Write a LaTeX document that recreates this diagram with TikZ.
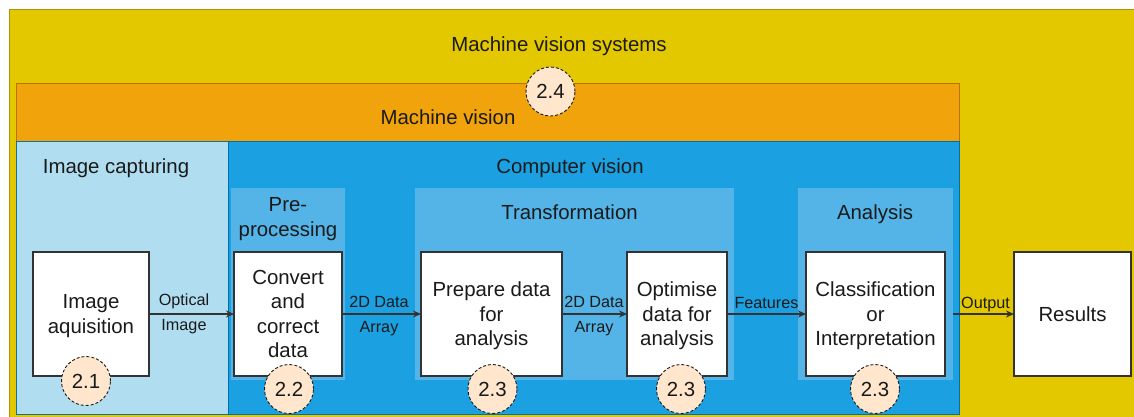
\documentclass[tikz,border=0pt]{standalone}
\usepackage{fontspec}
\setmainfont{Liberation Sans}
\usetikzlibrary{arrows.meta}

\definecolor{sysfill}{HTML}{E3C800}
\definecolor{sysline}{HTML}{B09500}
\definecolor{mvfill}{HTML}{F0A30A}
\definecolor{mvline}{HTML}{BD7000}
\definecolor{capfill}{HTML}{B1DDF0}
\definecolor{capline}{HTML}{10739E}
\definecolor{cvfill}{HTML}{1BA1E2}
\definecolor{cvline}{HTML}{006EAF}
\definecolor{stagefill}{HTML}{54B4E8}
\definecolor{tagfill}{HTML}{FFE6CC}
\definecolor{ink}{HTML}{1A1A1A}
\definecolor{wire}{HTML}{333333}

\tikzset{
  area/.style={anchor=north west, inner sep=0pt, outer sep=0pt, line width=1pt},
  stagebox/.style={area, fill=stagefill, draw=none},
  block/.style={area, fill=white, draw=wire, line width=1.1pt, align=center,
    text=ink, text depth=0pt, font=\fontsize{20.4}{24.5}\selectfont},
  title/.style={text=ink, inner sep=0pt, align=center,
    font=\fontsize{20.4}{25}\selectfont},
  elabel/.style={text=ink, inner sep=0pt, align=center,
    font=\fontsize{16.2}{25}\selectfont},
  flow/.style={draw=wire, line width=1.2pt, -{Stealth[length=8pt,width=7pt]}},
  tag/.style={circle, draw=ink, dashed, dash pattern=on 3pt off 2pt, line width=0.9pt,
    fill=tagfill, minimum size=49pt, inner sep=0pt, text=ink,
    font=\fontsize{20.4}{24.5}\selectfont}
}

\begin{document}
\begin{tikzpicture}[x=1pt, y=-1pt]
\useasboundingbox (0,0) rectangle (1134,416);
\clip (0,0) rectangle (1134,416);

% nested scopes of the system
\node[area, fill=sysfill, draw=sysline, minimum width=1140pt, minimum height=420pt] (sys) at (9,9) {};
\node[area, fill=mvfill, draw=mvline, minimum width=943pt, minimum height=58pt] (mv) at (16,83) {};
\node[area, fill=capfill, draw=capline, minimum width=212pt, minimum height=273pt] (cap) at (16,141) {};
\node[area, fill=cvfill, draw=cvline, minimum width=731pt, minimum height=273pt] (cv) at (228,141) {};

% processing stages
\node[stagebox, minimum width=114pt, minimum height=192pt] (pre) at (231,188) {};
\node[stagebox, minimum width=319pt, minimum height=192pt] (tr) at (415,188) {};
\node[stagebox, minimum width=155pt, minimum height=192pt] (an) at (798,188) {};

% titles
\node[title, anchor=base] (tsys) at (559,51) {Machine vision systems};
\node[title, anchor=base] (tmv) at (448,124) {Machine vision};
\node[title, anchor=base] (tcap) at (116,173) {Image capturing};
\node[title, anchor=base] (tcv) at (570,173) {Computer vision};
\node[title] (tpre) at (288,219.5) {Pre-\\processing};
\node[title, anchor=base] (ttr) at (569.5,219) {Transformation};
\node[title, anchor=base] (tan) at (875,219) {Analysis};

% blocks
\node[block, minimum width=116pt, minimum height=124pt] (acq) at (33,252) {Image\\aquisition};
\node[block, minimum width=108pt, minimum height=124pt] (conv) at (234,252) {Convert\\and\\correct\\data};
\node[block, minimum width=141pt, minimum height=124pt] (prep) at (421,252) {Prepare data\\for\\analysis};
\node[block, minimum width=100pt, minimum height=124pt] (opt) at (627,252) {Optimise\\data for\\analysis};
\node[block, minimum width=139pt, minimum height=124pt] (cls) at (806,252) {Classification\\or\\Interpretation};
\node[block, minimum width=117pt, minimum height=124pt] (res) at (1014,252) {Results};

% data flow
\draw[flow] (acq.east) -- node[elabel, xshift=-7.5pt] {Optical\\Image} (conv.west);
\draw[flow] (conv.east) -- node[elabel, xshift=-2.5pt, yshift=-2pt] {2D Data\\Array} (prep.west);
\draw[flow] (prep.east) -- node[elabel, xshift=-0.5pt, yshift=-2pt] {2D Data\\Array} (opt.west);
\draw[flow] (opt.east) -- node[elabel, anchor=base, yshift=6pt] {Features} (cls.west);
\draw[flow] (an.east |- cls.east) -- node[elabel, anchor=base, xshift=2pt, yshift=6pt] {Output} (res.west);

% section tags
\node[tag] (t21) at (86,381) {2.1};
\node[tag] (t22) at (289,389) {2.2};
\node[tag] (t23a) at (492.5,389) {2.3};
\node[tag] (t23b) at (681,389) {2.3};
\node[tag] (t23c) at (875,389) {2.3};
\node[tag] (t24) at (550.5,91.5) {2.4};
\end{tikzpicture}
\end{document}
